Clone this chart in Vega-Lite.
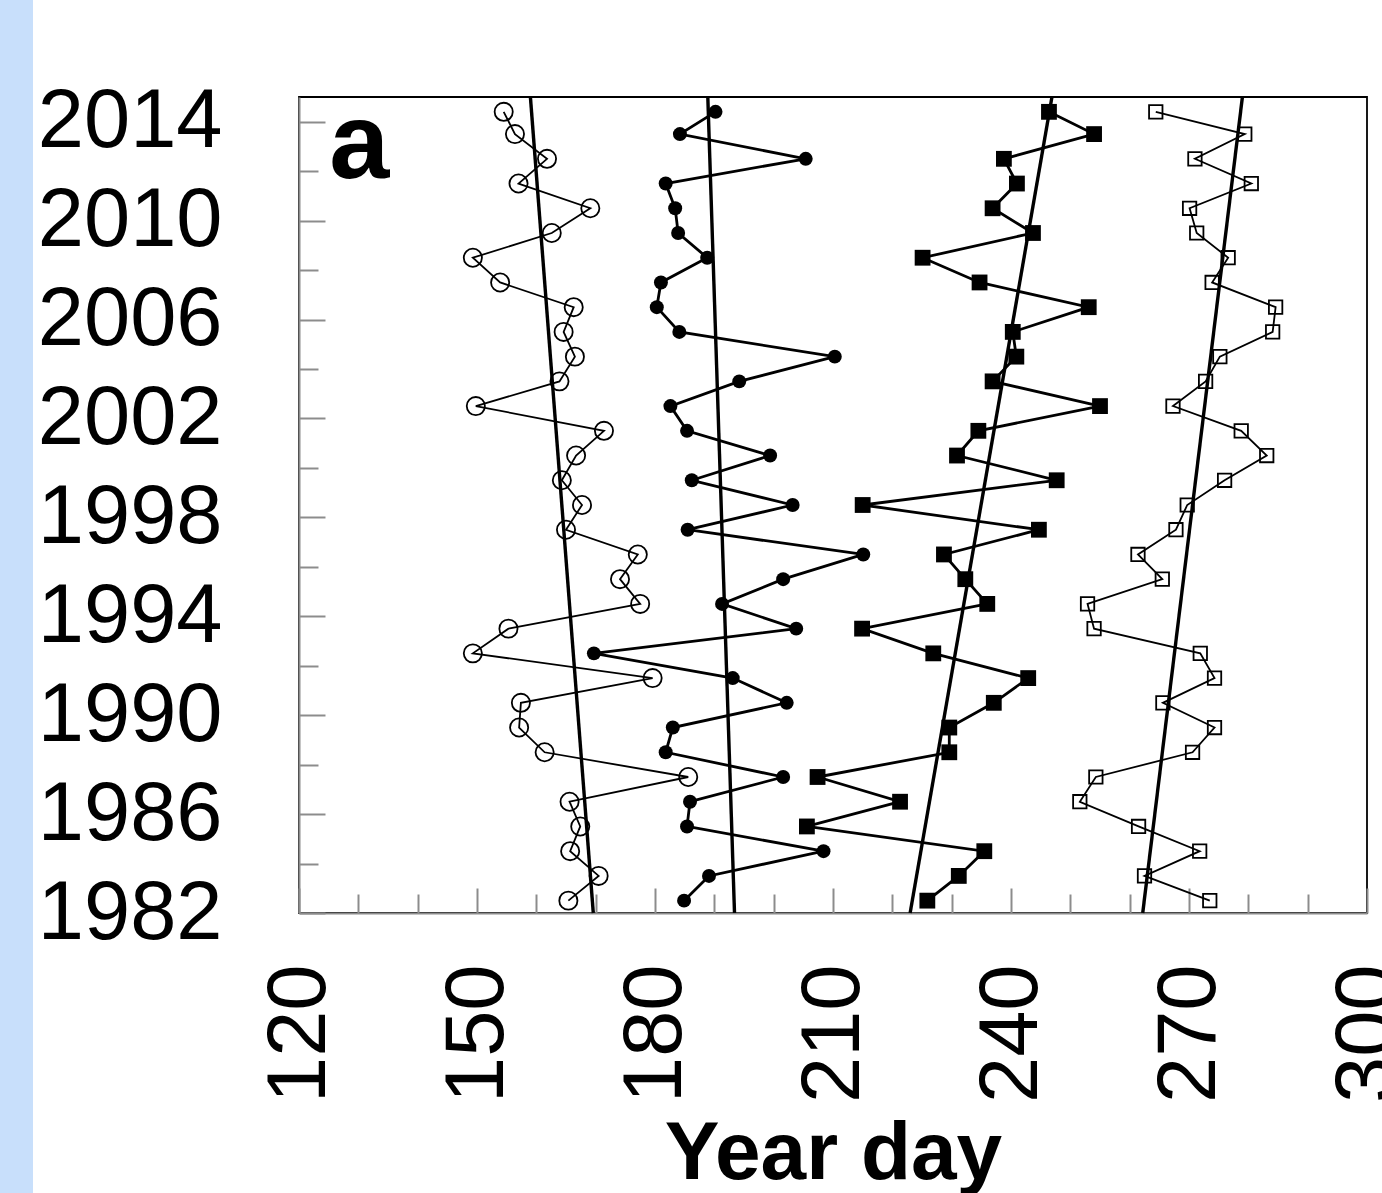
{
  "$schema": "https://vega.github.io/schema/vega-lite/v6.json",
  "padding": 0,
  "background": "white",
  "bounds": "flush",
  "spacing": 266,
  "config": {"view": {"stroke": null}},
  "datasets": {
    "pts": [
      {"s":"oc","year":1982.5,"day":165.4},{"s":"oc","year":1983.5,"day":170.5},{"s":"oc","year":1984.5,"day":165.7},{"s":"oc","year":1985.5,"day":167.4},{"s":"oc","year":1986.5,"day":165.6},{"s":"oc","year":1987.5,"day":185.6},{"s":"oc","year":1988.5,"day":161.4},{"s":"oc","year":1989.5,"day":157.1},{"s":"oc","year":1990.5,"day":157.4},{"s":"oc","year":1991.5,"day":179.6},{"s":"oc","year":1992.5,"day":149.3},{"s":"oc","year":1993.5,"day":155.3},{"s":"oc","year":1994.5,"day":177.5},{"s":"oc","year":1995.5,"day":174.1},{"s":"oc","year":1996.5,"day":177.1},{"s":"oc","year":1997.5,"day":165.0},{"s":"oc","year":1998.5,"day":167.7},{"s":"oc","year":1999.5,"day":164.3},{"s":"oc","year":2000.5,"day":166.7},{"s":"oc","year":2001.5,"day":171.4},{"s":"oc","year":2002.5,"day":149.8},{"s":"oc","year":2003.5,"day":163.9},{"s":"oc","year":2004.5,"day":166.5},{"s":"oc","year":2005.5,"day":164.6},{"s":"oc","year":2006.5,"day":166.3},{"s":"oc","year":2007.5,"day":153.9},{"s":"oc","year":2008.5,"day":149.3},{"s":"oc","year":2009.5,"day":162.6},{"s":"oc","year":2010.5,"day":169.1},{"s":"oc","year":2011.5,"day":157.0},{"s":"oc","year":2012.5,"day":161.8},{"s":"oc","year":2013.5,"day":156.4},{"s":"oc","year":2014.4,"day":154.5},
      {"s":"fc","year":1982.5,"day":184.9},{"s":"fc","year":1983.5,"day":189.1},{"s":"fc","year":1984.5,"day":208.4},{"s":"fc","year":1985.5,"day":185.4},{"s":"fc","year":1986.5,"day":185.9},{"s":"fc","year":1987.5,"day":201.6},{"s":"fc","year":1988.5,"day":181.8},{"s":"fc","year":1989.5,"day":183.0},{"s":"fc","year":1990.5,"day":202.2},{"s":"fc","year":1991.5,"day":193.1},{"s":"fc","year":1992.5,"day":169.7},{"s":"fc","year":1993.5,"day":203.8},{"s":"fc","year":1994.5,"day":191.3},{"s":"fc","year":1995.5,"day":201.6},{"s":"fc","year":1996.5,"day":215.1},{"s":"fc","year":1997.5,"day":185.5},{"s":"fc","year":1998.5,"day":203.2},{"s":"fc","year":1999.5,"day":186.2},{"s":"fc","year":2000.5,"day":199.4},{"s":"fc","year":2001.5,"day":185.4},{"s":"fc","year":2002.5,"day":182.6},{"s":"fc","year":2003.5,"day":194.2},{"s":"fc","year":2004.5,"day":210.3},{"s":"fc","year":2005.5,"day":184.1},{"s":"fc","year":2006.5,"day":180.3},{"s":"fc","year":2007.5,"day":181.0},{"s":"fc","year":2008.5,"day":188.8},{"s":"fc","year":2009.5,"day":183.9},{"s":"fc","year":2010.5,"day":183.4},{"s":"fc","year":2011.5,"day":181.8},{"s":"fc","year":2012.5,"day":205.4},{"s":"fc","year":2013.5,"day":184.2},{"s":"fc","year":2014.4,"day":190.2},
      {"s":"fs","year":1982.5,"day":225.9},{"s":"fs","year":1983.5,"day":231.2},{"s":"fs","year":1984.5,"day":235.5},{"s":"fs","year":1985.5,"day":205.6},{"s":"fs","year":1986.5,"day":221.3},{"s":"fs","year":1987.5,"day":207.4},{"s":"fs","year":1988.5,"day":229.6},{"s":"fs","year":1989.5,"day":229.6},{"s":"fs","year":1990.5,"day":237.1},{"s":"fs","year":1991.5,"day":242.9},{"s":"fs","year":1992.5,"day":226.9},{"s":"fs","year":1993.5,"day":214.9},{"s":"fs","year":1994.5,"day":236.0},{"s":"fs","year":1995.5,"day":232.3},{"s":"fs","year":1996.5,"day":228.7},{"s":"fs","year":1997.5,"day":244.7},{"s":"fs","year":1998.5,"day":215.0},{"s":"fs","year":1999.5,"day":247.7},{"s":"fs","year":2000.5,"day":230.9},{"s":"fs","year":2001.5,"day":234.5},{"s":"fs","year":2002.5,"day":255.0},{"s":"fs","year":2003.5,"day":236.9},{"s":"fs","year":2004.5,"day":240.9},{"s":"fs","year":2005.5,"day":240.3},{"s":"fs","year":2006.5,"day":253.1},{"s":"fs","year":2007.5,"day":234.7},{"s":"fs","year":2008.5,"day":225.1},{"s":"fs","year":2009.5,"day":243.7},{"s":"fs","year":2010.5,"day":236.9},{"s":"fs","year":2011.5,"day":241.0},{"s":"fs","year":2012.5,"day":238.8},{"s":"fs","year":2013.5,"day":254.0},{"s":"fs","year":2014.4,"day":246.4},
      {"s":"os","year":1982.5,"day":273.5},{"s":"os","year":1983.5,"day":262.5},{"s":"os","year":1984.5,"day":271.8},{"s":"os","year":1985.5,"day":261.5},{"s":"os","year":1986.5,"day":251.6},{"s":"os","year":1987.5,"day":254.3},{"s":"os","year":1988.5,"day":270.6},{"s":"os","year":1989.5,"day":274.3},{"s":"os","year":1990.5,"day":265.6},{"s":"os","year":1991.5,"day":274.3},{"s":"os","year":1992.5,"day":271.9},{"s":"os","year":1993.5,"day":254.0},{"s":"os","year":1994.5,"day":252.9},{"s":"os","year":1995.5,"day":265.5},{"s":"os","year":1996.5,"day":261.4},{"s":"os","year":1997.5,"day":267.8},{"s":"os","year":1998.5,"day":269.7},{"s":"os","year":1999.5,"day":276.0},{"s":"os","year":2000.5,"day":283.1},{"s":"os","year":2001.5,"day":278.8},{"s":"os","year":2002.5,"day":267.3},{"s":"os","year":2003.5,"day":272.8},{"s":"os","year":2004.5,"day":275.2},{"s":"os","year":2005.5,"day":284.1},{"s":"os","year":2006.5,"day":284.6},{"s":"os","year":2007.5,"day":273.9},{"s":"os","year":2008.5,"day":276.6},{"s":"os","year":2009.5,"day":271.3},{"s":"os","year":2010.5,"day":270.1},{"s":"os","year":2011.5,"day":280.5},{"s":"os","year":2012.5,"day":271.0},{"s":"os","year":2013.5,"day":279.4},{"s":"os","year":2014.4,"day":264.4}
    ],
    "trend": [
      {"s":"oc","year":1982,"day":169.6},{"s":"oc","year":2015,"day":159.0},
      {"s":"fc","year":1982,"day":193.4},{"s":"fc","year":2015,"day":188.9},
      {"s":"fs","year":1982,"day":223.0},{"s":"fs","year":2015,"day":246.9},
      {"s":"os","year":1982,"day":262.2},{"s":"os","year":2015,"day":279.0}
    ],
    "panel": [{"label": "a", "day": 125.1, "year": 2011.74}]
  },
  "hconcat": [
    {"width": 33, "height": 1193, "data": {"values": []}, "mark": "rect", "view": {"fill": "#c8dffb", "stroke": null}},
    {
      "spacing": 0,
      "bounds": "flush",
      "vconcat": [
        {"width": 1068, "height": 97, "data": {"values": []}, "mark": "rect"},
        {
          "width": 1068,
          "height": 816,
          "view": {"stroke": "black", "strokeWidth": 1.8},
          "encoding": {
            "x": {"field": "day", "type": "quantitative",
              "scale": {"domain": [120, 300], "nice": false, "zero": false},
              "axis": {
                "values": [120,130,140,150,160,170,180,190,200,210,220,230,240,250,260,270,280,290,300],
                "format": "d",
                "labelExpr": "datum.value % 30 == 0 ? datum.label : ''",
                "labelAngle": -90,
                "labelFont": "Liberation Sans", "labelFontSize": 83, "labelColor": "black",
                "labelPadding": 76, "labelLimit": 400,
                "labelFlush": false, "labelOverlap": false,
                "tickSize": {"condition": {"test": "datum.value % 30 == 0", "value": -25}, "value": -19},
                "tickColor": "#8c8c8c", "tickWidth": 2,
                "domainColor": "#8c8c8c", "domainWidth": 2,
                "grid": false,
                "title": "Year day", "titleFont": "Liberation Sans", "titleFontSize": 82, "titleFontWeight": "bold", "titleColor": "black", "titlePadding": 11
              }
            },
            "y": {"field": "year", "type": "quantitative",
              "scale": {"domain": [1982, 2015], "nice": false, "zero": false},
              "axis": {
                "values": [1982,1984,1986,1988,1990,1992,1994,1996,1998,2000,2002,2004,2006,2008,2010,2012,2014],
                "format": "d",
                "labelExpr": "datum.value % 4 == 2 ? datum.label : ''",
                "labelFont": "Liberation Sans", "labelFontSize": 83, "labelColor": "black",
                "labelPadding": 103, "labelLimit": 400,
                "labelFlush": false, "labelOverlap": false,
                "tickSize": {"condition": {"test": "datum.value % 4 == 2", "value": -26}, "value": -19},
                "tickColor": "#8c8c8c", "tickWidth": 2,
                "domainColor": "#8c8c8c", "domainWidth": 2,
                "grid": false,
                "title": null
              }
            }
          },
          "layer": [
            {"data": {"name": "pts"}, "transform": [{"filter": "datum.s == 'oc' || datum.s == 'os'"}],
             "mark": {"type": "line", "color": "black", "strokeWidth": 1.8},
             "encoding": {"detail": {"field": "s"}, "order": {"field": "year"}}},
            {"data": {"name": "pts"}, "transform": [{"filter": "datum.s == 'fc' || datum.s == 'fs'"}],
             "mark": {"type": "line", "color": "black", "strokeWidth": 2.8},
             "encoding": {"detail": {"field": "s"}, "order": {"field": "year"}}},
            {"data": {"name": "trend"},
             "mark": {"type": "line", "color": "black", "strokeWidth": 3.4},
             "encoding": {"detail": {"field": "s"}, "order": {"field": "year"}}},
            {"data": {"name": "pts"}, "transform": [{"filter": "datum.s == 'oc'"}],
             "mark": {"type": "point", "shape": "circle", "filled": false, "size": 330, "strokeWidth": 1.8, "color": "black", "opacity": 1}},
            {"data": {"name": "pts"}, "transform": [{"filter": "datum.s == 'fc'"}],
             "mark": {"type": "circle", "size": 195, "color": "black", "opacity": 1}},
            {"data": {"name": "pts"}, "transform": [{"filter": "datum.s == 'fs'"}],
             "mark": {"type": "square", "size": 250, "color": "black", "opacity": 1}},
            {"data": {"name": "pts"}, "transform": [{"filter": "datum.s == 'os'"}],
             "mark": {"type": "point", "shape": "square", "filled": false, "size": 180, "strokeWidth": 1.8, "color": "black", "opacity": 1}},
            {"data": {"name": "panel"},
             "mark": {"type": "text", "align": "left", "baseline": "alphabetic", "font": "Liberation Sans", "fontSize": 108, "fontWeight": "bold", "color": "black"},
             "encoding": {"text": {"field": "label"}}}
          ]
        }
      ]
    }
  ]
}
